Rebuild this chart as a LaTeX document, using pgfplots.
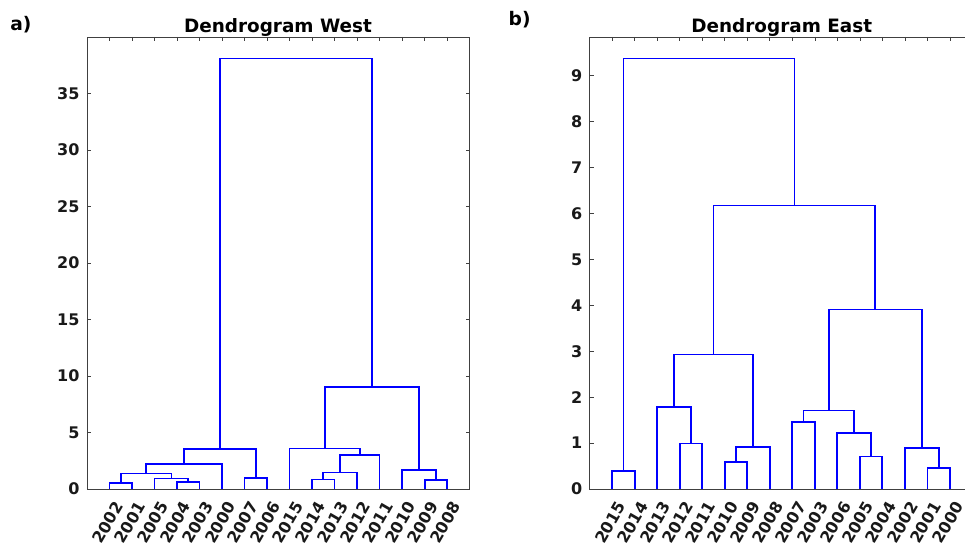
\documentclass[border=0pt]{standalone}
\usepackage{fontspec}
\setmainfont{DejaVu Sans}
\usepackage{pgfplots}
\pgfplotsset{compat=1.18}

\definecolor{axgray}{RGB}{64,64,64}

\pgfplotsset{
  dendro/.style={
    scale only axis,
    width=287pt, height=339pt,
    anchor=south west,
    xmin=0, xmax=17,
    ymin=0,
    xtick={1,...,16},
    tick align=inside,
    major tick length=3pt,
    tick style={axgray, line width=0.5pt},
    axis line style={axgray, line width=0.6pt},
    xtick pos=both, ytick pos=both,
    xticklabel pos=lower, yticklabel pos=left,
    /pgf/number format/assume math mode=true,
    ticklabel style={font=\fontsize{12}{14}\selectfont\bfseries, text=black!90},
    xticklabel style={inner sep=0pt, xshift=7pt, yshift=-10.5pt, rotate=60, anchor=east},
    yticklabel style={inner sep=0pt, xshift=-5.5pt},
  },
  dl/.style={blue, line width=1.3pt, line join=miter, mark=none},
}

\begin{document}
\begin{tikzpicture}

% West
\begin{axis}[dendro, at={(65.25pt,45pt)}, ymax=40,
  ytick={0,5,...,35},
  xticklabels={2002,2001,2005,2004,2003,2000,2007,2006,2015,2014,2013,2012,2011,2010,2009,2008}]
\addplot[dl] coordinates {(1,0) (1,0.50) (2,0.50) (2,0)};
\addplot[dl] coordinates {(4,0) (4,0.62) (5,0.62) (5,0)};
\addplot[dl] coordinates {(3,0) (3,0.94) (4.5,0.94) (4.5,0.62)};
\addplot[dl] coordinates {(1.5,0.50) (1.5,1.36) (3.75,1.36) (3.75,0.94)};
\addplot[dl] coordinates {(2.625,1.36) (2.625,2.21) (6,2.21) (6,0)};
\addplot[dl] coordinates {(7,0) (7,0.95) (8,0.95) (8,0)};
\addplot[dl] coordinates {(4.3125,2.21) (4.3125,3.55) (7.5,3.55) (7.5,0.95)};
\addplot[dl] coordinates {(10,0) (10,0.85) (11,0.85) (11,0)};
\addplot[dl] coordinates {(10.5,0.85) (10.5,1.47) (12,1.47) (12,0)};
\addplot[dl] coordinates {(11.25,1.47) (11.25,3.04) (13,3.04) (13,0)};
\addplot[dl] coordinates {(9,0) (9,3.58) (12.125,3.58) (12.125,3.04)};
\addplot[dl] coordinates {(15,0) (15,0.77) (16,0.77) (16,0)};
\addplot[dl] coordinates {(14,0) (14,1.71) (15.5,1.71) (15.5,0.77)};
\addplot[dl] coordinates {(10.5625,3.58) (10.5625,9.02) (14.75,9.02) (14.75,1.71)};
\addplot[dl] coordinates {(5.90625,3.55) (5.90625,38.1) (12.65625,38.1) (12.65625,9.02)};
\end{axis}

% East
\begin{axis}[dendro, at={(442.3pt,45pt)}, ymax=9.84,
  ytick={0,1,...,9},
  xticklabels={2015,2014,2013,2012,2011,2010,2009,2008,2007,2003,2006,2005,2004,2002,2001,2000}]
\addplot[dl] coordinates {(1,0) (1,0.39) (2,0.39) (2,0)};
\addplot[dl] coordinates {(4,0) (4,0.99) (5,0.99) (5,0)};
\addplot[dl] coordinates {(3,0) (3,1.79) (4.5,1.79) (4.5,0.99)};
\addplot[dl] coordinates {(6,0) (6,0.58) (7,0.58) (7,0)};
\addplot[dl] coordinates {(6.5,0.58) (6.5,0.92) (8,0.92) (8,0)};
\addplot[dl] coordinates {(3.75,1.79) (3.75,2.93) (7.25,2.93) (7.25,0.92)};
\addplot[dl] coordinates {(9,0) (9,1.46) (10,1.46) (10,0)};
\addplot[dl] coordinates {(12,0) (12,0.71) (13,0.71) (13,0)};
\addplot[dl] coordinates {(11,0) (11,1.22) (12.5,1.22) (12.5,0.71)};
\addplot[dl] coordinates {(9.5,1.46) (9.5,1.71) (11.75,1.71) (11.75,1.22)};
\addplot[dl] coordinates {(15,0) (15,0.46) (16,0.46) (16,0)};
\addplot[dl] coordinates {(14,0) (14,0.90) (15.5,0.90) (15.5,0.46)};
\addplot[dl] coordinates {(10.625,1.71) (10.625,3.91) (14.75,3.91) (14.75,0.90)};
\addplot[dl] coordinates {(5.5,2.93) (5.5,6.17) (12.6875,6.17) (12.6875,3.91)};
\addplot[dl] coordinates {(1.5,0.39) (1.5,9.37) (9.09375,9.37) (9.09375,6.17)};
\end{axis}

\node[font=\fontsize{13.8}{16}\selectfont\bfseries, anchor=base] at (208.5pt,387.5pt) {Dendrogram West};
\node[font=\fontsize{13.8}{16}\selectfont\bfseries, anchor=base] at (586.3pt,387.5pt) {Dendrogram East};
\node[font=\fontsize{14}{16}\selectfont\bfseries, anchor=base west, inner sep=0pt] at (7.5pt,388.7pt) {a)};
\node[font=\fontsize{14}{16}\selectfont\bfseries, anchor=base west, inner sep=0pt] at (381.3pt,392.3pt) {b)};

\pgfresetboundingbox
\useasboundingbox (0,0) rectangle (723.75pt,411.75pt);
\end{tikzpicture}
\end{document}
